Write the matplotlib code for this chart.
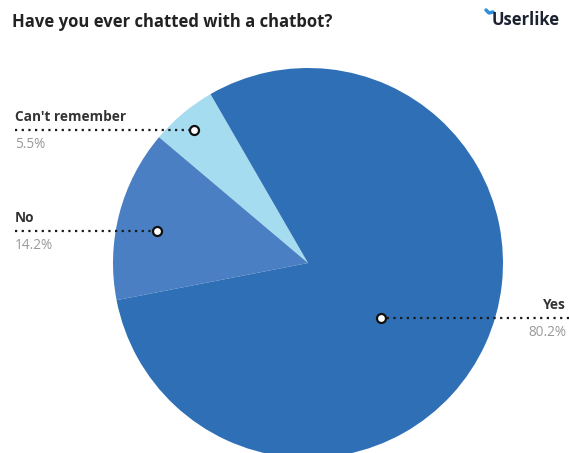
import matplotlib.pyplot as plt

# data
labels = ["Can't remember", "No", "Yes"]
values = [5.5, 14.2, 80.2]
colors = ["#a6dcf0", "#4a80c3", "#2f6fb6"]

W, H = 569, 453
fig = plt.figure(figsize=(W / 100, H / 100), dpi=100)
ax = fig.add_axes([0, 0, 1, 1])

font = 'Open Sans'

# pie, centre and radius in pixel units (y measured from bottom)
cx, cy, R = 308, H - 263, 195
ax.pie(values, colors=colors, startangle=120, counterclock=True,
       center=(cx, cy), radius=R, frame=True,
       wedgeprops=dict(linewidth=0))
ax.set_xlim(0, W)
ax.set_ylim(0, H)
ax.set_aspect('equal')
ax.axis('off')

# label layout: marker (x, y px), line end x, text x, alignment
layout = {
    "Can't remember": (194, 130, 15, 15, 'left'),
    "No": (157, 231, 15, 15, 'left'),
    "Yes": (381, 318, 569, 566, 'right'),
}
for lab, val in zip(labels, values):
    mx, my, lx, tx, ha = layout[lab]
    y = H - my
    ax.plot([lx, mx], [y, y], color='#1a1a1a', lw=1.6, ls=(0, (1, 2)),
            solid_capstyle='round', zorder=3)
    ax.plot(mx, y, 'o', ms=6.5, mfc='white', mec='#111111', mew=1.6, zorder=4)
    ax.text(tx, y + 6, lab, ha=ha, va='bottom', fontsize=9.8,
            fontweight='bold', color='#333333', family=font)
    ax.text(tx, y - 7, f"{val}%", ha=ha, va='top', fontsize=9.8,
            color='#999999', family=font)

# title
fig.text(12 / W, 1 - 22 / H, "Have you ever chatted with a chatbot?",
         ha='left', va='center', fontsize=12, fontweight='bold',
         color='#222222', family=font)

# logo
fig.text(560 / W, 1 - 20 / H, "Userlike", ha='right', va='center',
         fontsize=12, fontweight='bold', color='#1c2230', family=font)
ax.plot([486, 489, 493], [H - 10, H - 13, H - 12], color='#2f8fdc', lw=2.5,
        solid_capstyle='round')

fig.savefig('out.png', dpi=100)
